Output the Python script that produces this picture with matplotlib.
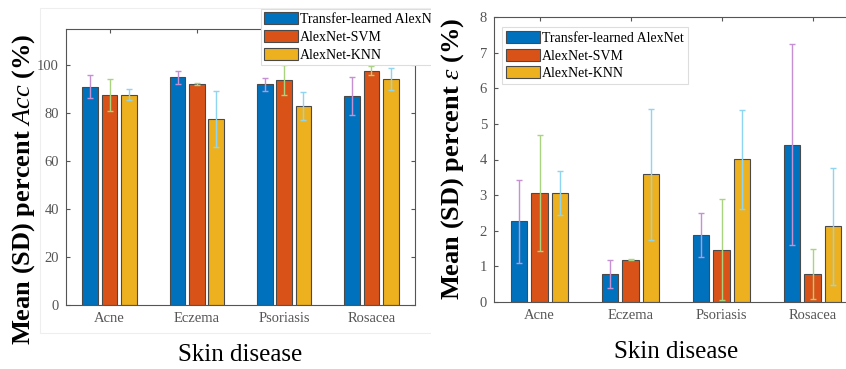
import numpy as np
import matplotlib
matplotlib.use('Agg')
import matplotlib.pyplot as plt
from matplotlib.patches import Rectangle

plt.rcParams['font.family'] = ['Liberation Serif', 'DejaVu Serif']
plt.rcParams['mathtext.fontset'] = 'custom'
plt.rcParams['mathtext.rm'] = 'Liberation Serif'
plt.rcParams['mathtext.it'] = 'Liberation Serif:italic'
plt.rcParams['mathtext.bf'] = 'Liberation Serif:bold'

diseases = ['Acne', 'Eczema', 'Psoriasis', 'Rosacea']
models = ['Transfer-learned AlexNet', 'AlexNet-SVM', 'AlexNet-KNN']

# mean accuracy (%) and SD
acc_mean = [[91.0, 94.9, 91.9, 87.2],
            [87.6, 92.0, 93.7, 97.7],
            [87.6, 77.6, 83.0, 94.1]]
acc_sd = [[4.8, 2.8, 2.8, 8.0],
          [6.6, 0.4, 6.1, 2.0],
          [2.3, 11.6, 5.9, 4.5]]

# mean error (%) and SD
err_mean = [[2.26, 0.79, 1.88, 4.42],
            [3.06, 1.19, 1.47, 0.79],
            [3.06, 3.59, 4.01, 2.12]]
err_sd = [[1.17, 0.40, 0.61, 2.82],
          [1.63, 0.02, 1.42, 0.70],
          [0.63, 1.84, 1.39, 1.63]]

bar_colors = ['#0072BD', '#D95319', '#EDB120']
eb_colors = ['#c591d3', '#a9d37e', '#8ed5f2']
offsets = [-0.222, 0.0, 0.222]
width = 0.18
x = np.arange(1, len(diseases) + 1)


def grouped(ax, means, sds, ylim, yticks):
    for i in range(len(models)):
        ax.bar(x + offsets[i], means[i], width, color=bar_colors[i],
               edgecolor='#4a4a4a', linewidth=0.8, label=models[i], zorder=2)
        ax.errorbar(x + offsets[i], means[i], yerr=sds[i], fmt='none',
                    ecolor=eb_colors[i], elinewidth=1.0, capsize=2.5,
                    capthick=1.0, zorder=3)
    ax.set_xlim(0.5, 4.5)
    ax.set_ylim(ylim)
    ax.set_yticks(yticks)
    ax.set_xticks(x)
    ax.set_xticklabels(diseases)
    ax.tick_params(direction='in', length=3, top=True, right=True,
                   labelsize=10.5, colors='#555555', labelcolor='#555555', pad=5)
    for s in ax.spines.values():
        s.set_color('#555555')
        s.set_linewidth(0.8)
    ax.set_xlabel('Skin disease', fontsize=18, labelpad=14)


fig = plt.figure(figsize=(8.46, 3.69), dpi=100)

# faint frame around the left panel image
fig.patches.append(Rectangle((40 / 846, 1 - 333 / 369), 392 / 846, 325 / 369,
                             transform=fig.transFigure, fill=False,
                             edgecolor='#eeeeee', linewidth=0.8, zorder=-1))

ax1 = fig.add_axes([66 / 846, 64 / 369, 349 / 846, 276 / 369])
grouped(ax1, acc_mean, acc_sd, (0, 115), np.arange(0, 101, 20))
ax1.set_ylabel(r'Mean (SD) percent $\mathit{Acc}$ (%)', fontsize=19,
               fontweight='bold')
ax1.yaxis.set_label_coords(-0.082, 0.42)
leg1 = ax1.legend(loc='upper left', bbox_to_anchor=(261 / 846, 1 - 9 / 369),
                  bbox_transform=fig.transFigure, fontsize=10, frameon=True,
                  fancybox=False, edgecolor='#dddddd', framealpha=1,
                  handlelength=2.4, handleheight=0.95, handletextpad=0.15,
                  labelspacing=0.28, borderpad=0.25, borderaxespad=0)
leg1.get_frame().set_linewidth(0.8)

# white cover where the left legend is cut off
fig.patches.append(Rectangle((431 / 846, 0), 415 / 846, 1,
                             transform=fig.transFigure, facecolor='white',
                             edgecolor='none', zorder=1))

ax2 = fig.add_axes([494 / 846, 67 / 369, 364 / 846, 285 / 369])
ax2.set_zorder(2)
grouped(ax2, err_mean, err_sd, (0, 8), np.arange(0, 9, 1))
ax2.set_ylabel(r'Mean (SD) percent $\varepsilon$ (%)', fontsize=19,
               fontweight='bold')
ax2.yaxis.set_label_coords(-0.077, 0.503)
leg2 = ax2.legend(loc='upper left', bbox_to_anchor=(502 / 846, 1 - 27 / 369),
                  bbox_transform=fig.transFigure, fontsize=10, frameon=True,
                  fancybox=False, edgecolor='#dddddd', framealpha=1,
                  handlelength=2.4, handleheight=0.95, handletextpad=0.15,
                  labelspacing=0.28, borderpad=0.3, borderaxespad=0)
leg2.get_frame().set_linewidth(0.8)

fig.savefig('out.png', dpi=100)
